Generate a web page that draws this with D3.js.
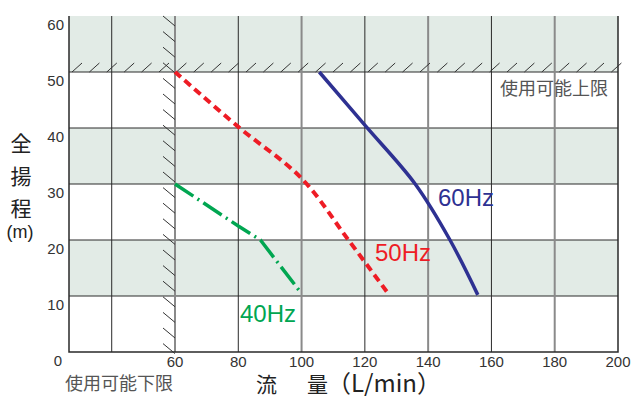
<!DOCTYPE html>
<html>
<head>
<meta charset="utf-8">
<script src="https://cdn.jsdelivr.net/npm/d3@7"></script>
<style>
  body { margin: 0; background: #fff; }
  text { font-family: "Liberation Sans", Arial, sans-serif; }
  .cjk { font-family: "Noto Sans CJK JP", sans-serif; }
</style>
</head>
<body>
<div id="chart"></div>
<script>
// Data (flow L/min, total head m)
const hz60 = [[105.6, 50], [120, 40.5], [135.9, 30], [146.9, 20], [155.7, 10.2]];
const hz50 = [[60, 50], [80, 40.2], [100, 31], [114.8, 20], [126.9, 10.8]];
const hz40 = [[60, 30], [80, 22.5], [87, 20], [99.5, 10.8]];

const xTicks = [60, 80, 100, 120, 140, 160, 180, 200];
const xGrid = [40, 60, 80, 100, 120, 140, 160, 180];
const yTicks = [0, 10, 20, 30, 40, 50, 60];
const bands = [[50, 60], [30, 40], [10, 20]];

const W = 632, H = 396;
const svg = d3.select("#chart").append("svg")
  .attr("width", W)
  .attr("height", H);

const x = d3.scaleLinear().domain([26.5, 200]).range([69, 618]);
const y = d3.scaleLinear().domain([0, 60]).range([352, 16]);

// shaded bands
svg.selectAll("rect.band")
  .data(bands)
  .enter()
  .append("rect")
  .attr("class", "band")
  .attr("x", x(26.5))
  .attr("width", x(200) - x(26.5))
  .attr("y", d => y(d[1]))
  .attr("height", d => y(d[0]) - y(d[1]))
  .style("fill", "#e2ebe6");

// horizontal grid
svg.selectAll("line.hgrid")
  .data(yTicks.filter(d => d > 0 && d < 60))
  .enter()
  .append("line")
  .attr("x1", x(26.5)).attr("x2", x(200))
  .attr("y1", d => y(d)).attr("y2", d => y(d))
  .style("stroke", "#2a2a2a")
  .style("stroke-width", 1);

// vertical grid, alternating dark / grey
svg.selectAll("line.vgrid")
  .data(xGrid)
  .enter()
  .append("line")
  .attr("x1", d => x(d)).attr("x2", d => x(d))
  .attr("y1", y(60)).attr("y2", y(0))
  .style("stroke", (d, i) => i % 2 === 0 ? "#2a2a2a" : "#8a8a8a")
  .style("stroke-width", (d, i) => i % 2 === 0 ? 1 : 2);

// frame (left, right, bottom)
svg.append("path")
  .attr("d", `M${x(26.5)},${y(60)}V${y(0)}H${x(200)}V${y(60)}`)
  .style("fill", "none")
  .style("stroke", "#2a2a2a")
  .style("stroke-width", 1.5);

// hatching: upper limit at 50 m and lower limit at 60 L/min
const hatch = svg.append("g").style("stroke", "#333").style("stroke-width", 1);
d3.range(x(26.5) + 3, x(200) - 5, 17.4).forEach(px => {
  hatch.append("line")
    .attr("x1", px).attr("y1", y(50))
    .attr("x2", px + 10).attr("y2", y(50) - 9);
});
d3.range(y(60), y(0) - 8, 15.6).forEach(py => {
  hatch.append("line")
    .attr("x1", x(60) - 12).attr("y1", py)
    .attr("x2", x(60)).attr("y2", py + 10);
});

// curves
const smooth = d3.line().x(d => x(d[0])).y(d => y(d[1])).curve(d3.curveCatmullRom);
const straight = d3.line().x(d => x(d[0])).y(d => y(d[1]));

svg.append("path").datum(hz60)
  .attr("d", smooth)
  .style("fill", "none")
  .style("stroke", "#2e3192")
  .style("stroke-width", 3.5);

svg.append("path").datum(hz50)
  .attr("d", smooth)
  .style("fill", "none")
  .style("stroke", "#ee1c25")
  .style("stroke-width", 4)
  .style("stroke-dasharray", "8,5");

svg.append("path").datum(hz40)
  .attr("d", straight)
  .style("fill", "none")
  .style("stroke", "#00a651")
  .style("stroke-width", 3.5)
  .style("stroke-dasharray", "22,5,2,5");

// series labels
const seriesLabels = [
  { t: "60Hz", c: "#2e3192", px: 438, py: 206 },
  { t: "50Hz", c: "#ee1c25", px: 375, py: 261 },
  { t: "40Hz", c: "#00a651", px: 240, py: 322 }
];
svg.selectAll("text.series")
  .data(seriesLabels)
  .enter()
  .append("text")
  .attr("x", d => d.px)
  .attr("y", d => d.py)
  .style("fill", d => d.c)
  .style("font-size", "24px")
  .text(d => d.t);

// y tick labels
svg.selectAll("text.ytick")
  .data(yTicks)
  .enter()
  .append("text")
  .attr("x", d => d === 0 ? 62 : 64)
  .attr("y", d => y(d) + 14)
  .attr("text-anchor", "end")
  .style("font-size", "15px")
  .style("fill", "#333")
  .text(d => d);

// x tick labels
svg.selectAll("text.xtick")
  .data(xTicks)
  .enter()
  .append("text")
  .attr("x", d => x(d))
  .attr("y", 367)
  .attr("text-anchor", "middle")
  .style("font-size", "15px")
  .style("fill", "#333")
  .text(d => d);

// limit labels
svg.append("text").attr("class", "cjk")
  .attr("x", 65).attr("y", 390)
  .style("font-size", "18px").style("fill", "#555")
  .text("使用可能下限");
svg.append("text").attr("class", "cjk")
  .attr("x", 500).attr("y", 95)
  .style("font-size", "18px").style("fill", "#555")
  .text("使用可能上限");

// x axis title
const xTitle = svg.append("g").style("fill", "#222");
xTitle.append("text").attr("class", "cjk")
  .attr("x", 256).attr("y", 392)
  .style("font-size", "21px")
  .text("流");
xTitle.append("text").attr("class", "cjk")
  .attr("x", 307).attr("y", 392)
  .style("font-size", "21px")
  .text("量");
xTitle.append("text").attr("class", "cjk")
  .attr("x", 327).attr("y", 392)
  .style("font-size", "24px")
  .text("（L/min）");

// y axis title
const yTitle = ["全", "揚", "程"];
svg.selectAll("text.ytitle")
  .data(yTitle)
  .enter()
  .append("text")
  .attr("class", "cjk")
  .attr("x", 21)
  .attr("y", (d, i) => 151 + i * 32.5)
  .attr("text-anchor", "middle")
  .style("font-size", "21px")
  .style("fill", "#222")
  .text(d => d);
svg.append("text")
  .attr("x", 20).attr("y", 238)
  .attr("text-anchor", "middle")
  .style("font-size", "18px").style("fill", "#222")
  .text("(m)");
</script>
</body>
</html>
